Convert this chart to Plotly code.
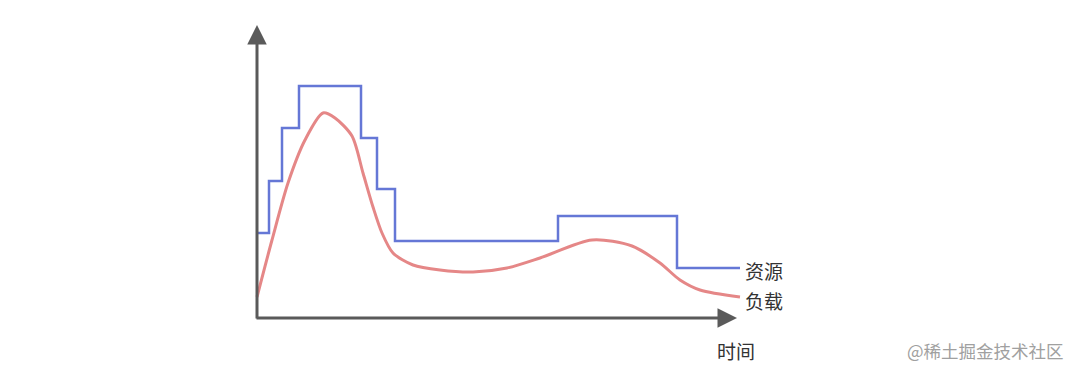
import plotly.graph_objects as go

# Resource (step) series
res_x = [0, 12, 25, 42, 104, 120, 138, 301, 420, 483]
res_y = [85, 137, 190, 232, 180, 129, 77, 102, 50, 50]

# Load (smooth) series
load_x = [0, 15, 31, 48, 66, 78, 95, 106, 116, 125, 136, 156, 183, 216, 250, 283, 335, 375, 403, 423, 443, 483]
load_y = [21, 78, 135, 178, 205, 200, 182, 145, 111, 85, 65, 53, 48, 46, 50, 60, 78, 72, 55, 38, 28, 21]

labels = {"res": "资源", "load": "负载", "x": "时间", "wm": "@稀土掘金技术社区"}

fig = go.Figure()
fig.add_trace(go.Scatter(x=load_x, y=load_y, mode="lines",
                         line=dict(color="#e58787", width=3, shape="spline", smoothing=0.8),
                         hoverinfo="skip"))
fig.add_trace(go.Scatter(x=res_x, y=res_y, mode="lines",
                         line=dict(color="#6577d6", width=2.5, shape="hv"),
                         hoverinfo="skip"))

axis_color = "#5a5a5a"
# axes with arrows
fig.add_annotation(x=0, y=293, ax=0, ay=-2, xref="x", yref="y", axref="x", ayref="y",
                   showarrow=True, arrowhead=2, arrowsize=1.3, arrowwidth=3, arrowcolor=axis_color, text="")
fig.add_annotation(x=480, y=0, ax=-2, ay=0, xref="x", yref="y", axref="x", ayref="y",
                   showarrow=True, arrowhead=2, arrowsize=1.3, arrowwidth=3, arrowcolor=axis_color, text="")

font = "Noto Sans CJK SC"
fig.add_annotation(x=507, y=48, text=labels["res"], showarrow=False,
                   font=dict(family=font, size=19, color="#333333"))
fig.add_annotation(x=507, y=18, text=labels["load"], showarrow=False,
                   font=dict(family=font, size=19, color="#333333"))
fig.add_annotation(x=479, y=-32, text=labels["x"], showarrow=False,
                   font=dict(family=font, size=19, color="#333333"))
fig.add_annotation(x=728, y=-32, text=labels["wm"], showarrow=False,
                   font=dict(family=font, size=17.5, color="#a0a0a0"))

fig.update_layout(width=1080, height=374, margin=dict(l=0, r=0, t=0, b=0),
                  paper_bgcolor="white", plot_bgcolor="white", showlegend=False,
                  xaxis=dict(range=[-257, 823], visible=False, fixedrange=True),
                  yaxis=dict(range=[-56, 318], visible=False, fixedrange=True))

fig.write_html("out.html")
